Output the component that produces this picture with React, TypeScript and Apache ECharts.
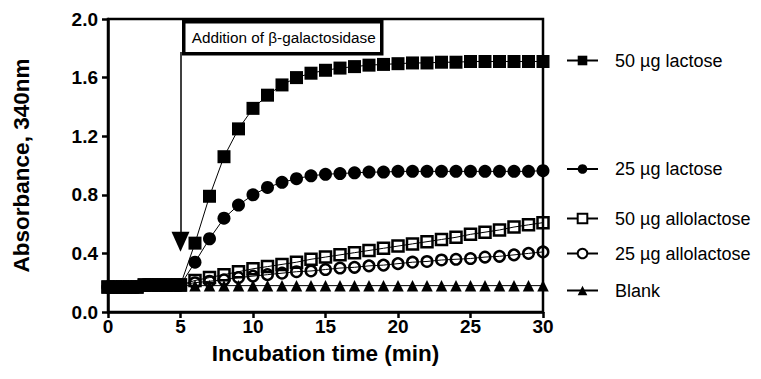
import React, { useEffect, useRef } from "react";
import * as echarts from "echarts";

const timePoints = [0, 0.5, 1, 1.5, 2, 2.5, 3, 3.5, 4, 4.5, 5, 6, 7, 8, 9, 10, 11, 12, 13, 14, 15, 16, 17, 18, 19, 20, 21, 22, 23, 24, 25, 26, 27, 28, 29, 30];
const preAddition = [0.17, 0.17, 0.17, 0.17, 0.17, 0.185, 0.185, 0.185, 0.185, 0.185, 0.185];
const lactose50 = [...preAddition, 0.47, 0.79, 1.06, 1.25, 1.39, 1.48, 1.55, 1.6, 1.63, 1.65, 1.665, 1.675, 1.685, 1.69, 1.695, 1.7, 1.7, 1.705, 1.705, 1.71, 1.71, 1.71, 1.71, 1.71, 1.71];
const lactose25 = [...preAddition, 0.34, 0.5, 0.64, 0.73, 0.8, 0.85, 0.885, 0.91, 0.93, 0.94, 0.945, 0.95, 0.955, 0.955, 0.96, 0.96, 0.96, 0.96, 0.96, 0.96, 0.96, 0.96, 0.96, 0.96, 0.965];
const allolactose50 = [...preAddition, 0.215, 0.235, 0.255, 0.275, 0.295, 0.31, 0.325, 0.34, 0.36, 0.375, 0.39, 0.405, 0.42, 0.435, 0.45, 0.465, 0.48, 0.495, 0.51, 0.53, 0.545, 0.56, 0.58, 0.595, 0.61];
const allolactose25 = [...preAddition, 0.2, 0.21, 0.22, 0.235, 0.245, 0.255, 0.265, 0.275, 0.28, 0.29, 0.3, 0.305, 0.315, 0.32, 0.33, 0.34, 0.345, 0.355, 0.36, 0.365, 0.375, 0.38, 0.39, 0.4, 0.41];
const blank = [0.17, 0.17, 0.17, 0.17, 0.17, 0.18, 0.18, 0.18, 0.18, 0.18, 0.18, 0.18, 0.18, 0.18, 0.18, 0.18, 0.18, 0.18, 0.18, 0.18, 0.18, 0.18, 0.18, 0.18, 0.18, 0.18, 0.18, 0.18, 0.18, 0.18, 0.18, 0.18, 0.18, 0.18, 0.18, 0.18];

const seriesNames = ["50 µg lactose", "25 µg lactose", "50 µg allolactose", "25 µg allolactose", "Blank"];
const legendCenters = [62, 170.5, 220, 255, 292];

const additionTime = 5;
const arrowTop = 1.775;
const arrowEnd = 0.48;
const annotationText = "Addition of β-galactosidase";

const FONT = 'Arial, "Liberation Sans", Helvetica, sans-serif';

function pairs(ys: number[]) {
  return timePoints.map((t, i) => [t, ys[i]]);
}

export default function App() {
  const ref = useRef<HTMLDivElement>(null);
  useEffect(() => {
    if (!ref.current) return;
    const chart = echarts.init(ref.current, null, { renderer: "svg" });
    const lineStyle = { color: "#000", width: 1 };
    const base = {
      type: "line",
      clip: false,
      lineStyle,
      emphasis: { disabled: true },
    };
    const series: any[] = [
      {
        ...base,
        name: seriesNames[4],
        data: pairs(blank),
        symbol: "triangle",
        symbolSize: 11.5,
        itemStyle: { color: "#000" },
        z: 2,
        markLine: {
          silent: true,
          symbol: ["none", "triangle"],
          symbolSize: [18, 20],
          label: { show: false },
          lineStyle: { color: "#000", width: 1.5, type: "solid" },
          data: [[{ coord: [additionTime, arrowTop] }, { coord: [additionTime, arrowEnd] }]],
        },
      },
      {
        ...base,
        name: seriesNames[3],
        data: pairs(allolactose25),
        symbol: "circle",
        symbolSize: 10.5,
        itemStyle: { color: "rgba(255,255,255,0)", borderColor: "#000", borderWidth: 2.5 },
        z: 3,
      },
      {
        ...base,
        name: seriesNames[2],
        data: pairs(allolactose50),
        symbol: "rect",
        symbolSize: 11,
        itemStyle: { color: "rgba(255,255,255,0)", borderColor: "#000", borderWidth: 2.5 },
        z: 4,
      },
      {
        ...base,
        name: seriesNames[1],
        data: pairs(lactose25),
        symbol: "circle",
        symbolSize: 13,
        itemStyle: { color: "#000" },
        z: 5,
      },
      {
        ...base,
        name: seriesNames[0],
        data: pairs(lactose50),
        symbol: "rect",
        symbolSize: 13,
        itemStyle: { color: "#000" },
        z: 6,
      },
    ];

    const legends = seriesNames.map((name, i) => {
      const hollow = i === 2 || i === 3;
      return {
        show: true,
        left: 566,
        top: legendCenters[i] - 10.5,
        padding: 0,
        itemWidth: 31,
        itemHeight: 12,
        selectedMode: false,
        data: [
          hollow
            ? { name, itemStyle: { color: "#fff", borderColor: "#000", borderWidth: 2 } }
            : { name },
        ],
        textStyle: { fontSize: 18, color: "#000", fontFamily: FONT, padding: [0, 0, 0, 12] },
      };
    });

    chart.setOption({
      animation: false,
      backgroundColor: "#fff",
      grid: {
        left: 108,
        right: 218,
        top: 19,
        bottom: 67,
        show: true,
        borderColor: "#000",
        borderWidth: 2.5,
        backgroundColor: "transparent",
      },
      legend: legends,
      xAxis: {
        type: "value",
        min: 0,
        max: 30,
        interval: 5,
        name: "Incubation time (min)",
        nameLocation: "middle",
        nameGap: 30,
        nameTextStyle: { fontSize: 22.5, fontWeight: "bold", color: "#000", fontFamily: FONT },
        axisLine: { show: true, lineStyle: { color: "#000", width: 2.5 } },
        axisTick: { show: true, length: 6, lineStyle: { color: "#000", width: 2.5 } },
        axisLabel: { fontSize: 19, fontWeight: "bold", color: "#000", fontFamily: FONT, margin: 5 },
        splitLine: { show: false },
      },
      yAxis: {
        type: "value",
        min: 0,
        max: 2,
        interval: 0.4,
        name: "Absorbance, 340nm",
        nameLocation: "middle",
        nameGap: 75,
        nameTextStyle: { fontSize: 22.5, fontWeight: "bold", color: "#000", fontFamily: FONT },
        axisLine: { show: true, lineStyle: { color: "#000", width: 2.5 } },
        axisTick: { show: true, length: 6, lineStyle: { color: "#000", width: 2.5 } },
        axisLabel: {
          fontSize: 19,
          fontWeight: "bold",
          color: "#000",
          fontFamily: FONT,
          margin: 10,
          formatter: (v: number) => v.toFixed(1),
        },
        splitLine: { show: false },
      },
      graphic: [
        {
          type: "group",
          left: 182,
          top: 20,
          z: 100,
          children: [
            {
              type: "rect",
              shape: { x: 0, y: 0, width: 198, height: 32 },
              style: { fill: "#fff", stroke: "#000", lineWidth: 3.5 },
            },
            {
              type: "text",
              x: 8,
              y: 16,
              style: {
                text: annotationText,
                fill: "#000",
                font: `15.3px ${FONT}`,
                verticalAlign: "middle",
                align: "left",
              },
            },
          ],
        },
      ],
      series,
    });
    return () => chart.dispose();
  }, []);
  return (
    <div
      ref={ref}
      style={{ position: "fixed", left: 0, top: 0, width: 761, height: 379, background: "#fff" }}
    />
  );
}
